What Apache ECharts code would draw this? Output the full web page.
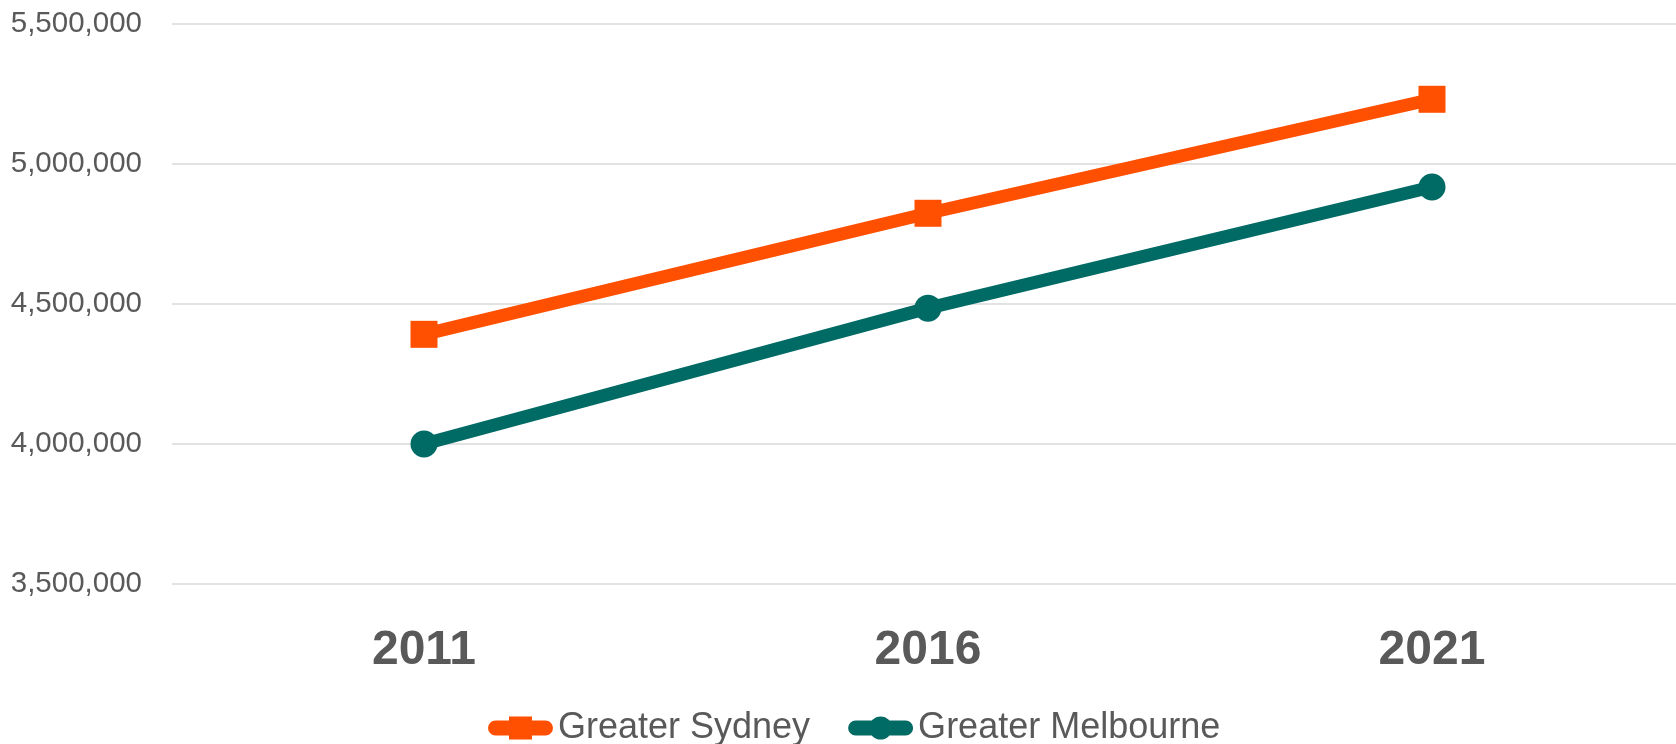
<!DOCTYPE html>
<html>
<head>
<meta charset="utf-8">
<script src="https://cdn.jsdelivr.net/npm/echarts@6/dist/echarts.min.js"></script>
<style>
  html, body { margin: 0; padding: 0; background: #fff; }
  #chart { width: 1676px; height: 744px; }
</style>
</head>
<body>
<div id="chart"></div>
<script>
// census years and population per city
var years = ["2011", "2016", "2021"];
var sydney = [4391674, 4823991, 5231147];
var melbourne = [3999981, 4485211, 4917750];

// legend keys: thick rounded line with the marker on top
var capsule = "M7.5 4 H57.5 A7.5 7.5 0 0 1 57.5 19 H7.5 A7.5 7.5 0 0 1 7.5 4 Z ";
var sydneyIcon = "path://" + capsule + "M21 0 H44 V23 H21 Z";
var melbourneIcon = "path://" + capsule + "M21 11.5 A11.5 11.5 0 1 1 44 11.5 A11.5 11.5 0 1 1 21 11.5 Z";

var chart = echarts.init(document.getElementById("chart"));

var option = {
  animation: false,
  grid: {
    left: 172,
    width: 1512,
    top: 24,
    bottom: 160,
    outerBoundsMode: "none",
  },
  legend: {
    left: 483,
    top: 705,
    itemWidth: 65,
    itemHeight: 23,
    itemGap: 38,
    textStyle: {
      fontFamily: "'Liberation Sans', sans-serif",
      fontSize: 36,
      color: "#595959",
    },
    data: [
      { name: "Greater Sydney", icon: sydneyIcon },
      { name: "Greater Melbourne", icon: melbourneIcon },
    ],
  },
  xAxis: {
    type: "category",
    data: years,
    axisLine: { show: false },
    axisTick: { show: false },
    axisLabel: {
      margin: 43,
      fontFamily: "'Liberation Sans', sans-serif",
      fontWeight: "bold",
      fontSize: 48,
      color: "#595959",
    },
  },
  yAxis: {
    type: "value",
    min: 3500000,
    max: 5500000,
    interval: 500000,
    splitLine: {
      show: true,
      lineStyle: { color: "#d9d9d9", width: 1.5 },
    },
    axisLabel: {
      margin: 30,
      fontFamily: "'Liberation Sans', sans-serif",
      fontSize: 29.5,
      color: "#595959",
      formatter: function (value) {
        return value.toLocaleString("en-US");
      },
    },
  },
  series: [
    {
      name: "Greater Sydney",
      type: "line",
      data: sydney,
      symbol: "rect",
      symbolSize: 27,
      lineStyle: { color: "#fe5000", width: 13 },
      itemStyle: { color: "#fe5000" },
    },
    {
      name: "Greater Melbourne",
      type: "line",
      data: melbourne,
      symbol: "circle",
      symbolSize: 27,
      lineStyle: { color: "#006a65", width: 13 },
      itemStyle: { color: "#006a65" },
    },
  ],
};

chart.setOption(option);
</script>
</body>
</html>
